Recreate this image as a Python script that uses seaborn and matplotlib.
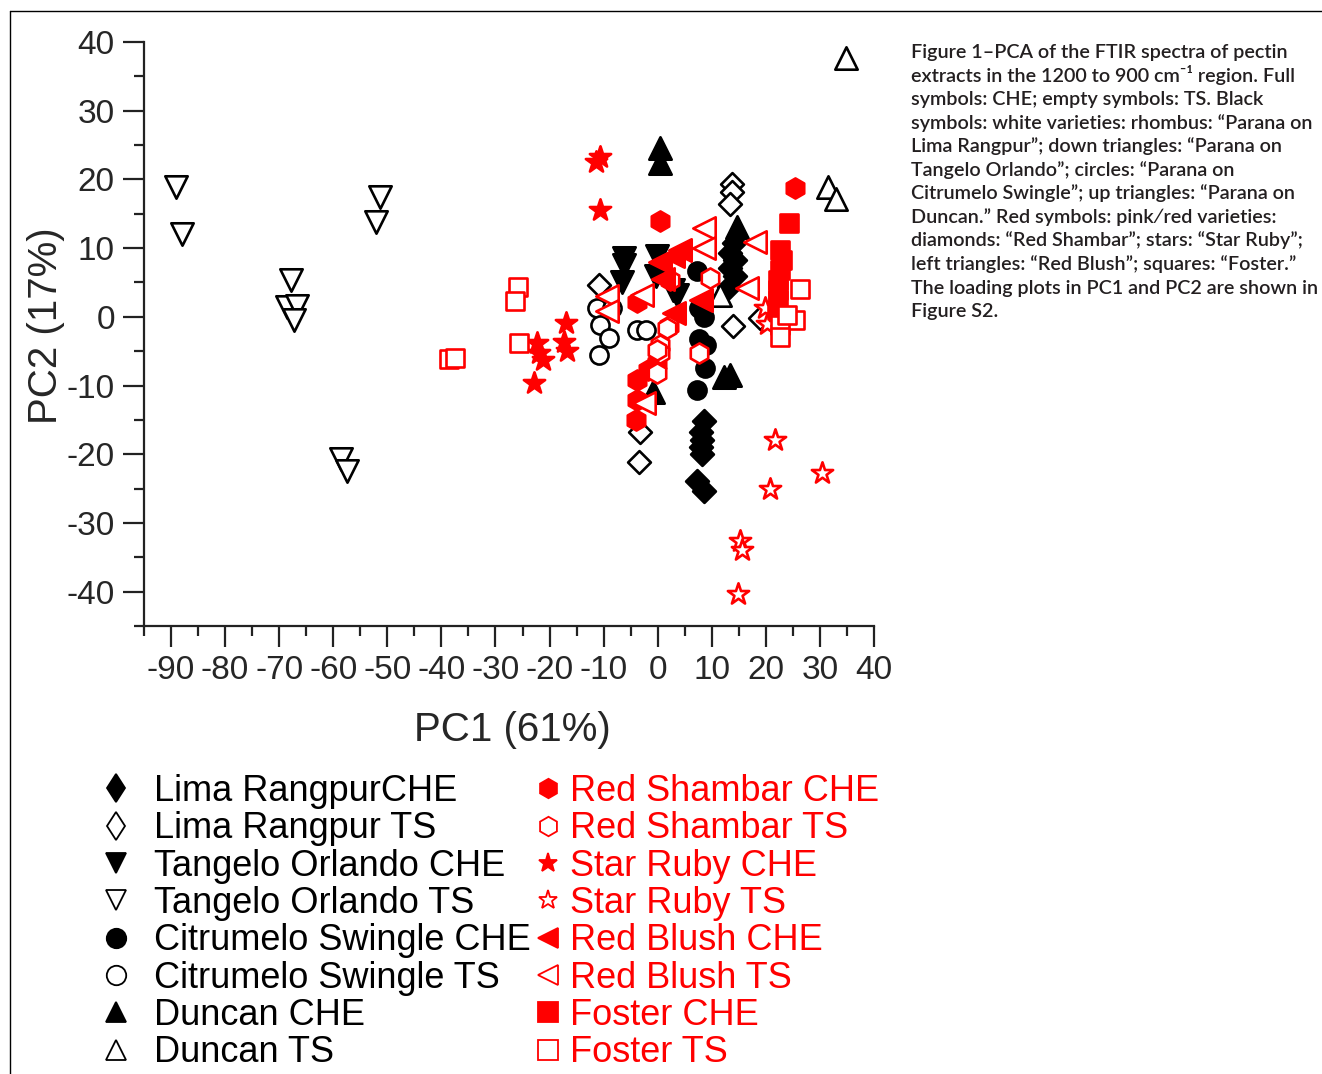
import matplotlib
matplotlib.use("Agg")
import matplotlib.pyplot as plt
from matplotlib.lines import Line2D
from matplotlib.ticker import MultipleLocator
import numpy as np
import pandas as pd
import seaborn as sns

# ---- data (PC1, PC2 scores) ----
lima_che_x = [14.1, 13.4, 14.3, 13.4, 14.3, 13.1, 8.5, 8.0, 8.2, 8.0, 8.2, 7.3, 8.5]
lima_che_y = [10.7, 9.3, 8.3, 7.1, 5.9, 4.4, -15.2, -16.7, -17.9, -18.9, -19.9, -23.9, -25.4]
lima_ts_x = [13.8, 13.8, 13.4, -10.8, 13.9, 19.0, -3.3, -3.5]
lima_ts_y = [19.4, 18.2, 16.4, 4.7, -1.4, -0.1, -16.8, -21.2]
tang_che_x = [-6.2, -6.2, -6.6, -0.1, -0.4, 3.6, 2.9]
tang_che_y = [8.5, 7.6, 5.1, 8.8, 5.9, 3.2, 3.9]
tang_ts_x = [-89.0, -87.9, -51.3, -52.1, -67.8, -68.5, -66.7, -67.2, -58.5, -57.4]
tang_ts_y = [18.9, 12.1, 17.4, 13.8, 5.3, 1.5, 1.6, -0.5, -20.7, -22.5]
citr_che_x = [7.3, 7.6, 8.5, 7.6, 8.9, 8.7, 7.3]
citr_che_y = [6.6, 1.3, 0.0, -3.3, -4.1, -7.4, -10.6]
citr_ts_x = [-11.2, -8.4, -10.6, -9.0, -10.8, -3.8, -2.2]
citr_ts_y = [1.3, 1.3, -1.2, -3.1, -5.5, -1.9, -1.9]
dunc_che_x = [0.5, 0.5, 14.7, 12.2, 13.4, -0.8]
dunc_che_y = [24.6, 22.4, 13.1, -8.7, -8.4, -11.0]
dunc_ts_x = [34.9, 31.5, 33.0, 11.6]
dunc_ts_y = [37.7, 18.9, 17.1, 3.2]

sham_che_x = [0.5, 25.4, -3.8, -0.1, -1.8, -3.8, -3.8, -4.0]
sham_che_y = [13.9, 18.7, 2.2, -6.7, -7.7, -9.2, -12.1, -15.0]
sham_ts_x = [2.3, 2.0, 0.5, 0.5, 1.7, -0.1, -0.1, 7.7, 9.7]
sham_ts_y = [5.4, -1.4, -4.1, -5.3, -1.6, -4.8, -8.2, -5.3, 5.6]
ruby_che_x = [-10.6, -11.5, -10.6, -17.0, -17.3, -16.7, -22.3, -21.3, -21.9, -22.8]
ruby_che_y = [23.3, 22.6, 15.6, -0.9, -3.6, -5.0, -3.8, -6.3, -5.3, -9.6]
ruby_ts_x = [21.6, 20.8, 30.4, 15.3, 15.6, 14.9, 19.9, 20.3]
ruby_ts_y = [-17.9, -25.0, -22.7, -32.6, -33.9, -40.3, 1.3, -1.0]
blush_che_x = [4.2, 2.8, 0.5, 1.0, 8.0, 3.0]
blush_che_y = [9.7, 8.8, 8.0, 5.5, 2.5, 0.5]
blush_ts_x = [8.5, 8.5, 18.0, 16.5, -9.3, -9.3, -2.9, -2.6]
blush_ts_y = [12.9, 10.0, 10.9, 4.2, 3.0, 0.8, 3.2, -12.5]
fost_che_x = [24.2, 22.6, 23.0, 22.6, 22.3, 22.3, 22.3, 22.0]
fost_che_y = [13.6, 9.7, 8.3, 6.8, 5.4, 3.9, 2.5, 1.0]
fost_ts_x = [-25.8, -26.4, -25.7, -38.6, -37.4, 26.4, 25.4, 22.6, 22.6, 23.9]
fost_ts_y = [4.4, 2.3, -3.8, -6.2, -6.0, 4.0, -0.5, -1.2, -2.9, 0.3]

# (label, x, y, marker, color, filled, size)
groups = [
    ("Lima RangpurCHE", lima_che_x, lima_che_y, "D", "black", True, 135),
    ("Lima Rangpur TS", lima_ts_x, lima_ts_y, "D", "black", False, 135),
    ("Tangelo Orlando CHE", tang_che_x, tang_che_y, "v", "black", True, 260),
    ("Tangelo Orlando TS", tang_ts_x, tang_ts_y, "v", "black", False, 260),
    ("Citrumelo Swingle CHE", citr_che_x, citr_che_y, "o", "black", True, 170),
    ("Citrumelo Swingle TS", citr_ts_x, citr_ts_y, "o", "black", False, 170),
    ("Duncan CHE", dunc_che_x, dunc_che_y, "^", "black", True, 260),
    ("Duncan TS", dunc_ts_x, dunc_ts_y, "^", "black", False, 260),
    ("Red Shambar CHE", sham_che_x, sham_che_y, "h", "red", True, 210),
    ("Red Shambar TS", sham_ts_x, sham_ts_y, "h", "red", False, 210),
    ("Star Ruby CHE", ruby_che_x, ruby_che_y, "*", "red", True, 260),
    ("Star Ruby TS", ruby_ts_x, ruby_ts_y, "*", "red", False, 260),
    ("Red Blush CHE", blush_che_x, blush_che_y, "<", "red", True, 260),
    ("Red Blush TS", blush_ts_x, blush_ts_y, "<", "red", False, 260),
    ("Foster CHE", fost_che_x, fost_che_y, "s", "red", True, 150),
    ("Foster TS", fost_ts_x, fost_ts_y, "s", "red", False, 150),
]

caption = [
    "Figure 1\u2013PCA of the FTIR spectra of pectin",
    "extracts in the 1200 to 900 cm\u207b\u00b9 region. Full",
    "symbols: CHE; empty symbols: TS. Black",
    "symbols: white varieties: rhombus: \u201cParana on",
    "Lima Rangpur\u201d; down triangles: \u201cParana on",
    "Tangelo Orlando\u201d; circles: \u201cParana on",
    "Citrumelo Swingle\u201d; up triangles: \u201cParana on",
    "Duncan.\u201d Red symbols: pink\u2215red varieties:",
    "diamonds: \u201cRed Shambar\u201d; stars: \u201cStar Ruby\u201d;",
    "left triangles: \u201cRed Blush\u201d; squares: \u201cFoster.\u201d",
    "The loading plots in PC1 and PC2 are shown in",
    "Figure S2.",
]

sns.set_style("ticks")
plt.rcParams['font.family'] = ['Liberation Sans', 'DejaVu Sans']
plt.rcParams['axes.linewidth'] = 1.6
plt.rcParams['axes.unicode_minus'] = False

W, H = 1322, 1074
fig = plt.figure(figsize=(W / 100, H / 100), dpi=100)
ax = fig.add_axes([144 / W, 1 - 626 / H, 730 / W, 584 / H])

for label, xs, ys, marker, color, filled, size in groups:
    df = pd.DataFrame({"PC1": xs, "PC2": ys})
    sns.scatterplot(data=df, x="PC1", y="PC2", ax=ax, marker=marker, s=size,
                    color=color if filled else "white", edgecolor=color,
                    linewidth=1.9, label=label, legend=False, zorder=3)

ax.set_xlim(-95, 40)
ax.set_ylim(-45, 40)
ax.xaxis.set_major_locator(MultipleLocator(10))
ax.xaxis.set_minor_locator(MultipleLocator(5))
ax.yaxis.set_major_locator(MultipleLocator(10))
ax.yaxis.set_minor_locator(MultipleLocator(5))
ax.tick_params(which='major', length=15, width=1.6, labelsize=24, pad=6, color='#222222')
ax.tick_params(which='minor', length=7.5, width=1.6, color='#222222')
for s in ['top', 'right']:
    ax.spines[s].set_visible(False)
for s in ['left', 'bottom']:
    ax.spines[s].set_color('#222222')

ax.set_xlabel("PC1 (61%)", fontsize=29)
ax.set_ylabel("PC2 (17%)", fontsize=29)
ax.xaxis.set_label_coords(0.505, -0.145)
ax.yaxis.set_label_coords(-0.108, 0.515)

# legends below the axes, two columns (legend diamonds are drawn narrow)
def handle(marker, color, filled):
    m, ms = marker, 14
    if marker == "D":
        m, ms = "d", 14.5
    return Line2D([], [], linestyle='none', marker=m, markersize=ms,
                  markerfacecolor=color if filled else 'white',
                  markeredgecolor=color, markeredgewidth=1.3)

left = [g for g in groups if g[4] == "black"]
right = [g for g in groups if g[4] == "red"]
fig.legend([handle(g[3], g[4], g[5]) for g in left], [g[0] for g in left],
           loc='upper left', bbox_to_anchor=(98 / W, 1 - 774 / H), frameon=False,
           fontsize=26, borderpad=0, borderaxespad=0, handlelength=1.0,
           handletextpad=0.55, labelspacing=0.065, labelcolor='black')
fig.legend([handle(g[3], g[4], g[5]) for g in right], [g[0] for g in right],
           loc='upper left', bbox_to_anchor=(537 / W, 1 - 774 / H), frameon=False,
           fontsize=26, borderpad=0, borderaxespad=0, handlelength=0.6,
           handletextpad=0.3, labelspacing=0.065, labelcolor='red')

# caption on the right
for i, line in enumerate(caption):
    fig.text(911 / W, 1 - (58 + 23.55 * i) / H, line, fontsize=14.2,
             family=['Lato', 'DejaVu Sans'], weight='semibold',
             color='#231f20', va='baseline', ha='left')

# page frame (top and left edges)
fig.add_artist(Line2D([9.5 / W, 1], [1 - 10.5 / H, 1 - 10.5 / H], color='black', lw=1))
fig.add_artist(Line2D([9.5 / W, 9.5 / W], [1 - 10.5 / H, 0], color='black', lw=1))

fig.savefig("out.png", dpi=100)
